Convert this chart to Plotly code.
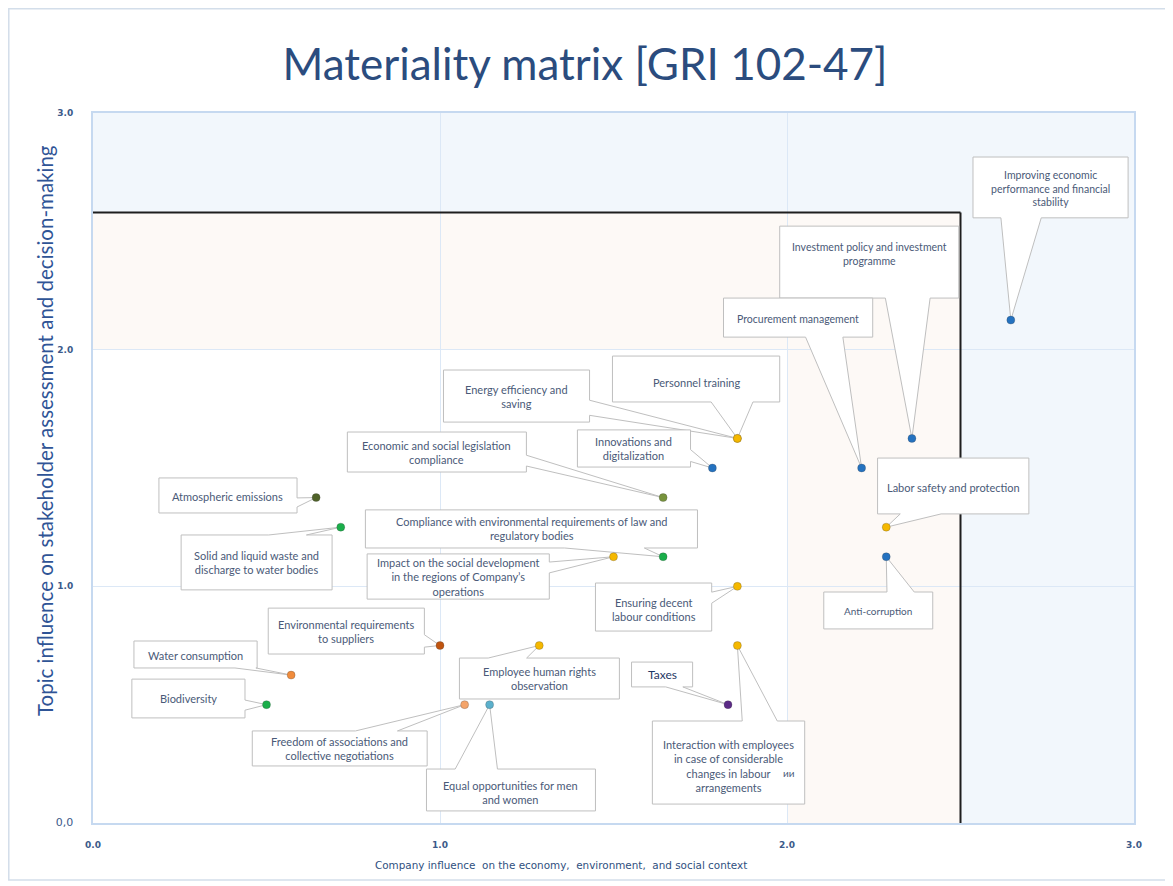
import plotly.graph_objects as go

# --- topics and their scores ---
topics = [
    "Improving economic performance and financial stability",
    "Investment policy and investment programme",
    "Procurement management",
    "Personnel training",
    "Energy efficiency and saving",
    "Innovations and digitalization",
    "Economic and social legislation compliance",
    "Atmospheric emissions",
    "Solid and liquid waste and discharge to water bodies",
    "Compliance with environmental requirements of law and regulatory bodies",
    "Impact on the social development in the regions of Company's operations",
    "Ensuring decent labour conditions",
    "Labor safety and protection",
    "Anti-corruption",
    "Environmental requirements to suppliers",
    "Water consumption",
    "Biodiversity",
    "Employee human rights observation",
    "Freedom of associations and collective negotiations",
    "Equal opportunities for men and women",
    "Taxes",
    "Interaction with employees in case of considerable changes in labour arrangements",
]
company_influence = [2.645, 2.36, 2.215, 1.857, 1.857, 1.785, 1.643, 0.643, 0.714, 1.643, 1.5,
                     1.857, 2.286, 2.286, 1.0, 0.571, 0.5, 1.286, 1.071, 1.143, 1.83, 1.857]
stakeholder_influence = [2.125, 1.625, 1.5, 1.625, 1.625, 1.5, 1.375, 1.375, 1.25, 1.125, 1.125,
                         1.0, 1.25, 1.125, 0.75, 0.625, 0.5, 0.75, 0.5, 0.5, 0.5, 0.75]
point_colors = ["#2472c0", "#2472c0", "#2472c0", "#f5b800", "#f5b800", "#2472c0", "#77933c",
                "#4f6228", "#1aae4a", "#1aae4a", "#f5b800", "#f5b800", "#f5b800", "#2472c0",
                "#c0540f", "#f08c3c", "#1aae4a", "#f5b800", "#f4a46a", "#5bb0cc", "#5b2a86",
                "#f5b800"]
label_texts = [
    "Improving economic<br>performance and financial<br>stability",
    "Investment policy and investment<br>programme",
    "Procurement management",
    "Personnel training",
    "Energy efficiency and<br>saving",
    "Innovations and<br>digitalization",
    "Economic and social legislation<br>compliance",
    "Atmospheric emissions",
    "Solid and liquid waste and<br>discharge to water bodies",
    "Compliance with environmental requirements of law and<br>regulatory bodies",
    "Impact on the social development<br>in the regions of Company\u2019s<br>operations",
    "Ensuring decent<br>labour conditions",
    "Labor safety and protection",
    "Anti-corruption",
    "Environmental requirements<br>to suppliers",
    "Water consumption",
    "Biodiversity",
    "Employee human rights<br>observation",
    "Freedom of associations and<br>collective negotiations",
    "Equal opportunities for men<br>and women",
    "Taxes",
    "Interaction with employees<br>in case of considerable<br>changes in labour<br>arrangements",
]

x_tick_vals = [0, 1, 2, 3]
x_tick_labels = ["0.0", "1.0", "2.0", "3.0"]
y_tick_vals = [0, 1, 2, 3]
y_tick_labels = ["<span style='font-size:11px;font-weight:normal'>0,0</span>", "1.0", "2.0", "3.0"]

# zone borders
upper_zone_y = 2.58
right_zone_x = 2.5
inner_zone = 2.0

# callout boxes: x0, x1, y0, y1, pointer side, pointer base (fractions along side), text position, font size
callouts = [
    (2.536, 2.983, 2.557, 2.814, "bottom", 0.18, 0.44, 0.52, 10.5),
    (1.979, 2.495, 2.218, 2.522, "bottom", 0.59, 0.84, 0.39, 10.5),
    (1.817, 2.247, 2.053, 2.218, "bottom", 0.55, 0.80, 0.54, 10.5),
    (1.497, 1.979, 1.779, 1.973, "bottom", 0.59, 0.84, 0.57, 11),
    (1.010, 1.431, 1.694, 1.914, "right", 0.58, 0.87, 0.5, 11),
    (1.396, 1.722, 1.504, 1.661, "right", 0.53, 0.85, 0.5, 11),
    (0.733, 1.249, 1.483, 1.652, "right", 0.58, 0.85, 0.5, 11),
    (0.190, 0.588, 1.310, 1.458, "right", 0.57, 0.83, 0.52, 11),
    (0.254, 0.689, 0.985, 1.217, "top", 0.58, 0.83, 0.5, 11),
    (0.785, 1.742, 1.162, 1.323, "bottom", 0.60, 0.84, 0.5, 11),
    (0.790, 1.315, 0.946, 1.137, "right", 0.18, 0.42, 0.5, 11),
    (1.448, 1.783, 0.811, 1.014, "right", 0.19, 0.42, 0.55, 11),
    (2.261, 2.697, 1.306, 1.542, "bottom", 0.15, 0.42, 0.52, 11),
    (2.106, 2.420, 0.820, 0.976, "top", 0.58, 0.83, 0.51, 10),
    (0.505, 0.955, 0.714, 0.908, "right", 0.58, 0.85, 0.5, 11),
    (0.118, 0.473, 0.655, 0.769, "bottom", 0.82, 0.99, 0.55, 11),
    (0.112, 0.438, 0.444, 0.608, "right", 0.54, 0.80, 0.5, 11),
    (1.056, 1.517, 0.524, 0.697, "top", 0.18, 0.42, 0.5, 11),
    (0.459, 0.963, 0.241, 0.389, "top", 0.59, 0.83, 0.5, 11),
    (0.961, 1.448, 0.051, 0.228, "top", 0.17, 0.42, 0.55, 11),
    (1.552, 1.728, 0.575, 0.680, "bottom", 0.56, 0.84, 0.52, 12),
    (1.612, 2.051, 0.080, 0.431, "top", 0.59, 0.82, 0.54, 11),
]

TEXT_COLOR = "#4a5a78"
BOX_LINE = "#bfbfbf"


def callout_path(x0, x1, y0, y1, side, f1, f2, tip):
    tx, ty = tip
    w, h = x1 - x0, y1 - y0
    pts = [(x0, y1)]
    if side == "top":
        pts += [(x0 + f1 * w, y1), (tx, ty), (x0 + f2 * w, y1)]
    pts.append((x1, y1))
    if side == "right":
        pts += [(x1, y1 - f1 * h), (tx, ty), (x1, y1 - f2 * h)]
    pts.append((x1, y0))
    if side == "bottom":
        pts += [(x0 + f2 * w, y0), (tx, ty), (x0 + f1 * w, y0)]
    pts.append((x0, y0))
    if side == "left":
        pts += [(x0, y1 - f2 * h), (tx, ty), (x0, y1 - f1 * h)]
    return "M " + " L ".join(f"{px},{py}" for px, py in pts) + " Z"


fig = go.Figure()

# background zones
shapes = [
    dict(type="rect", xref="x", yref="y", x0=0, x1=3, y0=0, y1=3, layer="below",
         fillcolor="#f2f7fc", line_width=0),
    dict(type="rect", xref="x", yref="y", x0=0, x1=right_zone_x, y0=0, y1=upper_zone_y, layer="below",
         fillcolor="#fdf9f6", line_width=0),
    dict(type="rect", xref="x", yref="y", x0=0, x1=inner_zone, y0=0, y1=inner_zone, layer="below",
         fillcolor="#ffffff", line_width=0),
    # materiality thresholds
    dict(type="line", xref="x", yref="y", x0=0, x1=right_zone_x, y0=upper_zone_y, y1=upper_zone_y,
         layer="between", line=dict(color="#1e1e1e", width=2)),
    dict(type="line", xref="x", yref="y", x0=right_zone_x, x1=right_zone_x, y0=0, y1=upper_zone_y,
         layer="between", line=dict(color="#1e1e1e", width=2)),
    # outer frame
    dict(type="rect", xref="paper", yref="paper", x0=-0.0809, x1=1.0327, y0=-0.0803, y1=1.1468,
         line=dict(color="#d3deea", width=1.5), fillcolor="rgba(0,0,0,0)"),
]

annotations = []
for i, (x0, x1, y0, y1, side, f1, f2, tpos, fsize) in enumerate(callouts):
    tip = (company_influence[i], stakeholder_influence[i])
    shapes.append(dict(type="path", xref="x", yref="y", layer="between",
                       path=callout_path(x0, x1, y0, y1, side, f1, f2, tip),
                       fillcolor="white", line=dict(color=BOX_LINE, width=1)))
    is_taxes = topics[i] == "Taxes"
    annotations.append(dict(
        x=(x0 + x1) / 2, y=y1 - tpos * (y1 - y0), xref="x", yref="y",
        text=label_texts[i], showarrow=False, align="center",
        font=dict(family="Lato, sans-serif", size=fsize,
                  color="#1f3864" if is_taxes else TEXT_COLOR),
    ))

# leftover note in the last box
last = callouts[-1]
annotations.append(dict(x=last[1] - 0.045, y=last[3] - 0.63 * (last[3] - last[2]), xref="x", yref="y",
                        text="ии", showarrow=False, font=dict(family="Lato, sans-serif", size=10, color=TEXT_COLOR)))

fig.add_trace(go.Scatter(
    x=company_influence, y=stakeholder_influence, mode="markers",
    marker=dict(color=point_colors, size=8, line=dict(width=0.5, color="rgba(60,60,60,0.5)")),
    hovertext=topics, hoverinfo="text", showlegend=False,
))

# axis titles
annotations += [
    dict(text="Topic influence on stakeholder assessment and decision-making", xref="paper", yref="paper",
         x=-0.0461, y=0.552, xanchor="center", yanchor="middle", textangle=-90, showarrow=False,
         font=dict(family="Lato, sans-serif", size=20.5, color="#2f5496")),
    dict(text="Company influence  on the economy,  environment,  and social context", xref="paper", yref="paper",
         x=0.4496, y=-0.0592, xanchor="center", yanchor="middle", showarrow=False,
         font=dict(family="DejaVu Sans, sans-serif", size=10.4, color="#2f4f80")),
]

tick_font = dict(family="DejaVu Sans, sans-serif", size=9, color="#3c5a8a", weight="bold")
axis_common = dict(range=[0, 3], showgrid=True, gridcolor="#dce8f6", gridwidth=1, zeroline=False,
                   showline=True, linecolor="#c6d9f0", linewidth=2, mirror=True, ticks="",
                   tickfont=tick_font, fixedrange=True)

fig.update_layout(
    width=1165, height=878,
    margin=dict(l=85, r=39, t=105, b=63),
    paper_bgcolor="white", plot_bgcolor="white",
    title=dict(text="Materiality matrix [GRI 102-47]", x=0.4953, xref="container", xanchor="center",
               y=0.935, yref="container", yanchor="middle",
               font=dict(family="Lato, sans-serif", size=44, color="#2b4c7e")),
    xaxis=dict(axis_common, tickvals=x_tick_vals, ticktext=x_tick_labels, ticklabelstandoff=12),
    yaxis=dict(axis_common, tickvals=y_tick_vals, ticktext=y_tick_labels, ticklabelstandoff=16),
    shapes=shapes,
    annotations=annotations,
)

fig.write_html("out.html")
